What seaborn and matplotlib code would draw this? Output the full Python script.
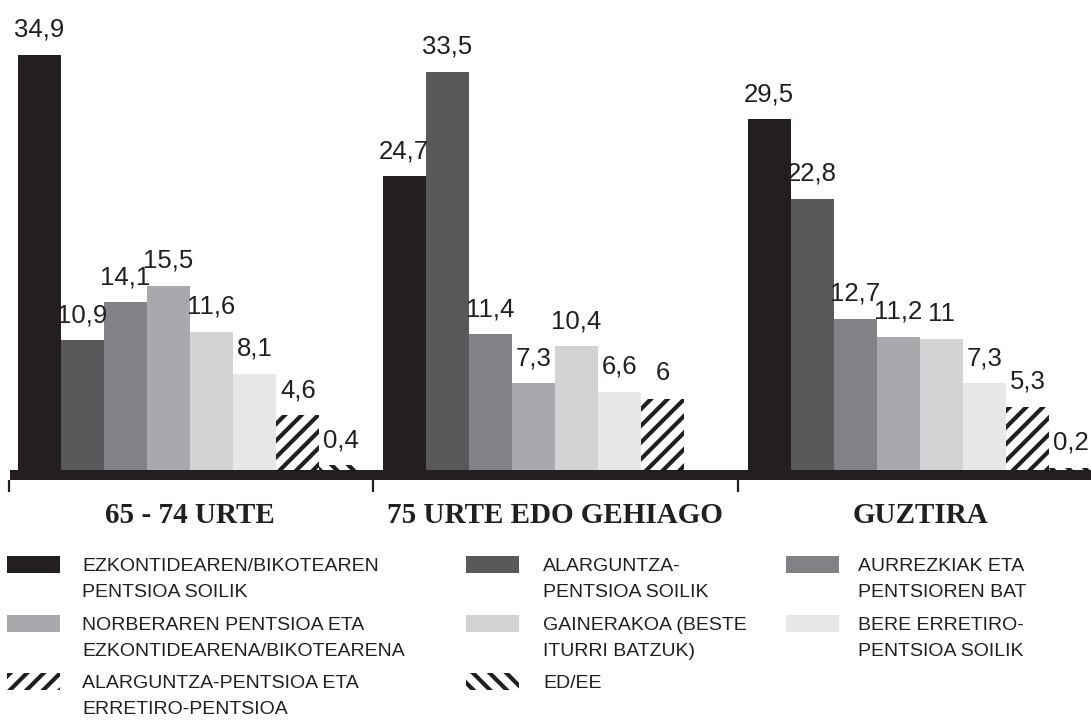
import numpy as np
import pandas as pd
import matplotlib
matplotlib.use("Agg")
import matplotlib.pyplot as plt
from matplotlib.patches import Rectangle
import seaborn as sns

# ---------------- data ----------------
categories = ["65 - 74 URTE", "75 URTE EDO GEHIAGO", "GUZTIRA"]
series_names = [
    "EZKONTIDEAREN/BIKOTEAREN\nPENTSIOA SOILIK",
    "ALARGUNTZA-\nPENTSIOA SOILIK",
    "AURREZKIAK ETA\nPENTSIOREN BAT",
    "NORBERAREN PENTSIOA ETA\nEZKONTIDEARENA/BIKOTEARENA",
    "GAINERAKOA (BESTE\nITURRI BATZUK)",
    "BERE ERRETIRO-\nPENTSIOA SOILIK",
    "ALARGUNTZA-PENTSIOA ETA\nERRETIRO-PENTSIOA",
    "ED/EE",
]
ezkontidearen = [34.9, 24.7, 29.5]
alarguntza = [10.9, 33.5, 22.8]
aurrezkiak = [14.1, 11.4, 12.7]
norberaren = [15.5, 7.3, 11.2]
gainerakoa = [11.6, 10.4, 11.0]
bere_erretiro = [8.1, 6.6, 7.3]
alarguntza_erretiro = [4.6, 6.0, 5.3]
ed_ee = [0.4, np.nan, 0.2]

values = [ezkontidearen, alarguntza, aurrezkiak, norberaren,
          gainerakoa, bere_erretiro, alarguntza_erretiro, ed_ee]

colors = ["#231f20", "#58595b", "#808285", "#a7a9ac",
          "#d1d3d4", "#e6e7e8", "#ffffff", "#ffffff"]
hatches = [None, None, None, None, None, None, "//", "\\\\"]
INK = "#231f20"

rows = []
for name, vals in zip(series_names, values):
    for cat, v in zip(categories, vals):
        if not np.isnan(v):
            rows.append({"group": cat, "series": name, "value": v})
df = pd.DataFrame(rows)

# ---------------- style ----------------
sns.set_theme(style="white")
plt.rcParams["font.family"] = ["Liberation Sans", "DejaVu Sans"]
plt.rcParams["hatch.linewidth"] = 3.0

W, H = 1091, 720
fig = plt.figure(figsize=(W / 100, H / 100), dpi=100)
ax = fig.add_axes([0, 1 - 480 / H, 1, 480 / H])

sns.barplot(data=df, x="group", y="value", hue="series",
            order=categories, hue_order=series_names,
            palette=dict(zip(series_names, colors)), saturation=1,
            width=0.945, gap=0, errorbar=None, legend=False, ax=ax)

for cont, h in zip(ax.containers, hatches):
    for p in cont:
        p.set_linewidth(0)
        if h:
            p.set_edgecolor(INK)
            p.set_hatch(h)
    ax.bar_label(cont, fmt=lambda v: f"{v:g}".replace(".", ","),
                 padding=9.5, fontsize=18.5, color=INK)

px_per_unit = 415 / 34.9
ax.set_ylim(-10 / px_per_unit, 470 / px_per_unit)
ax.set_xlim(-190 / 365, (W - 190) / 365)

# thick base line
ax.axhspan(-10 / px_per_unit, 0, xmin=10 / W, xmax=1, color=INK, lw=0, zorder=3)

for s in ax.spines.values():
    s.set_visible(False)
ax.set_yticks([])
ax.set_ylabel("")
ax.set_xlabel("")
ax.set_xticks([-0.495, 0.5, 1.5], labels=["", "", ""])
ax.tick_params(axis="x", which="major", direction="out", length=8.5,
               width=1.6, color=INK, bottom=True)
ax.set_xticks([0, 1, 2], labels=categories, minor=True)
ax.tick_params(axis="x", which="minor", length=0, pad=16)
for t in ax.get_xticklabels(minor=True):
    t.set_fontfamily(["Liberation Serif", "DejaVu Serif"])
    t.set_fontweight("bold")
    t.set_fontsize(21)
    t.set_color(INK)

# ---------------- legend ----------------
col_patch_x = [7, 466, 786]
col_text_x = [82, 543, 858]
row_top = [556, 615, 673]
for i, name in enumerate(series_names):
    r, c = divmod(i, 3)
    x0 = col_patch_x[c]
    y0 = row_top[r]
    rect = Rectangle((x0 / W, 1 - (y0 + 17) / H), 53 / W, 17 / H,
                     transform=fig.transFigure, facecolor=colors[i],
                     edgecolor=INK if hatches[i] else "none",
                     hatch=hatches[i], linewidth=0)
    fig.add_artist(rect)
    fig.text(col_text_x[c] / W, 1 - (y0 + 2) / H, name, ha="left", va="top",
             fontsize=14, color=INK, linespacing=1.7)

fig.savefig("out.png", dpi=100)
